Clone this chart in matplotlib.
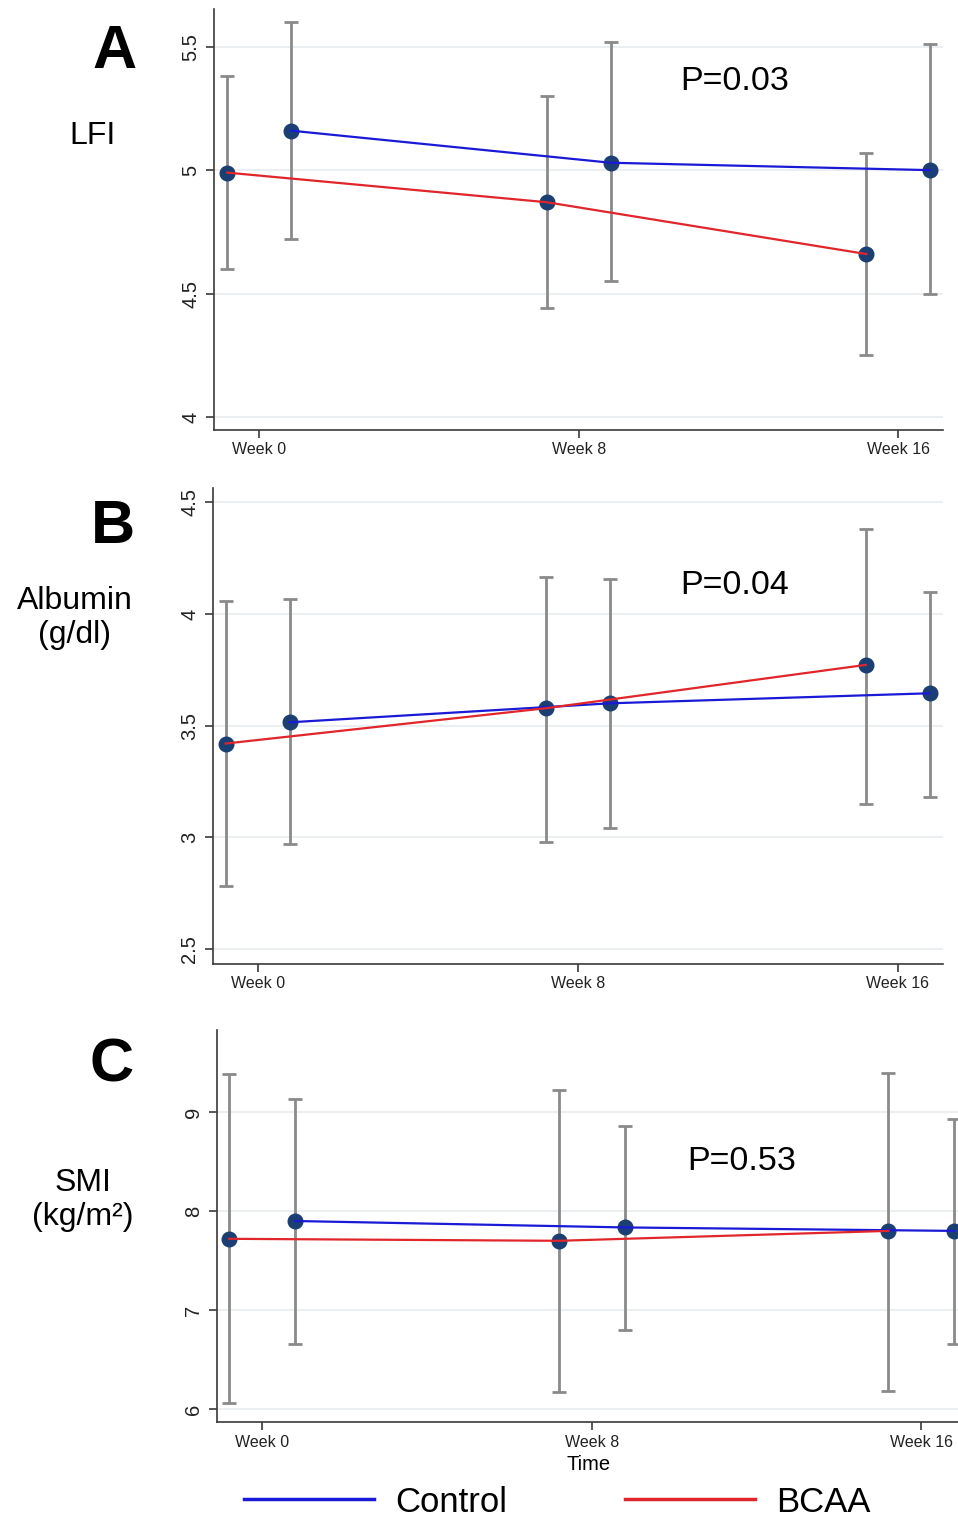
import matplotlib
matplotlib.use("Agg")
import matplotlib.pyplot as plt
from matplotlib.lines import Line2D
import numpy as np

plt.rcParams['font.family'] = ['Liberation Sans', 'DejaVu Sans']

# ---------------- data ----------------
weeks = [0, 8, 16]
week_labels = ["Week 0", "Week 8", "Week 16"]
offset = 0.8  # horizontal dodge (weeks)

# Panel A: LFI
lfi_control_mean = [5.16, 5.03, 5.00]
lfi_control_lo = [4.72, 4.55, 4.50]
lfi_control_hi = [5.60, 5.52, 5.51]
lfi_bcaa_mean = [4.99, 4.87, 4.66]
lfi_bcaa_lo = [4.60, 4.44, 4.25]
lfi_bcaa_hi = [5.38, 5.30, 5.07]

# Panel B: Albumin (g/dl)
alb_control_mean = [3.515, 3.60, 3.645]
alb_control_lo = [2.97, 3.04, 3.18]
alb_control_hi = [4.065, 4.157, 4.10]
alb_bcaa_mean = [3.42, 3.578, 3.772]
alb_bcaa_lo = [2.78, 2.98, 3.15]
alb_bcaa_hi = [4.06, 4.167, 4.38]

# Panel C: SMI (kg/m2)
smi_control_mean = [7.90, 7.835, 7.80]
smi_control_lo = [6.66, 6.80, 6.66]
smi_control_hi = [9.13, 8.86, 8.93]
smi_bcaa_mean = [7.72, 7.70, 7.80]
smi_bcaa_lo = [6.06, 6.175, 6.18]
smi_bcaa_hi = [9.39, 9.22, 9.40]

panel_letters = ["A", "B", "C"]
panel_ylabels = ["LFI", "Albumin\n(g/dl)", "SMI\n(kg/m²)"]
p_values = ["P=0.03", "P=0.04", "P=0.53"]
yticks_list = [[4, 4.5, 5, 5.5], [2.5, 3, 3.5, 4, 4.5], [6, 7, 8, 9]]
ytick_labels_list = [["4", "4.5", "5", "5.5"], ["2.5", "3", "3.5", "4", "4.5"], ["6", "7", "8", "9"]]
legend_labels = ["Control", "BCAA"]
xlabel_text = "Time"

# ---------------- style ----------------
W, H = 958, 1518
fig = plt.figure(figsize=(W / 100, H / 100), dpi=100)

def fx(px):
    return px / W

def fy(py):
    return 1 - py / H

CTRL_COLOR = "#1a1ad6"
BCAA_COLOR = "#e0262b"
MARKER_COLOR = "#1b3f72"
ERR_COLOR = "#8a8a8a"
GRID_COLOR = "#e9eef0"
SPINE_COLOR = "#3a3a3a"

# axes rectangles in pixels: left, top, right, bottom
rects = [(214, 9, 943, 430), (213.3, 488, 943.3, 964), (216.7, 1030, 960, 1422.3)]
xlims = [(-1.13, 17.12), (-1.11, 17.14), (-1.107, 16.94)]
ylims = [(3.947, 5.653), (2.433, 4.564), (5.866, 9.83)]

data = [
    (lfi_control_mean, lfi_control_lo, lfi_control_hi, lfi_bcaa_mean, lfi_bcaa_lo, lfi_bcaa_hi),
    (alb_control_mean, alb_control_lo, alb_control_hi, alb_bcaa_mean, alb_bcaa_lo, alb_bcaa_hi),
    (smi_control_mean, smi_control_lo, smi_control_hi, smi_bcaa_mean, smi_bcaa_lo, smi_bcaa_hi),
]

letter_pos = [(115, 52), (113, 527), (112, 1066)]
ylabel_pos = [(92, 136), (75, 618), (83, 1200)]
p_pos = [(735, 81), (735, 585), (742, 1161)]

for i in range(3):
    l, t, r, b = rects[i]
    ax = fig.add_axes([fx(l), fy(b), fx(r) - fx(l), fy(t) - fy(b)])
    cm, clo, chi, bm, blo, bhi = data[i]
    xc = np.array(weeks) + offset
    xb = np.array(weeks) - offset
    cm, clo, chi = np.array(cm), np.array(clo), np.array(chi)
    bm, blo, bhi = np.array(bm), np.array(blo), np.array(bhi)

    for xs, m, lo, hi in ((xb, bm, blo, bhi), (xc, cm, clo, chi)):
        ax.errorbar(xs, m, yerr=[m - lo, hi - m], fmt='none', ecolor=ERR_COLOR,
                    elinewidth=2.0, capsize=5, capthick=2.0, zorder=2)
        ax.plot(xs, m, 'o', color=MARKER_COLOR, markersize=10.5, zorder=3)
    ax.plot(xc, cm, '-', color=CTRL_COLOR, lw=1.6, zorder=4)
    ax.plot(xb, bm, '-', color=BCAA_COLOR, lw=1.6, zorder=4)

    ax.set_xlim(*xlims[i])
    ax.set_ylim(*ylims[i])
    ax.set_xticks(weeks)
    ax.set_xticklabels(week_labels, fontsize=11.5, color="#222222")
    ax.set_yticks(yticks_list[i])
    ax.set_yticklabels(ytick_labels_list[i], fontsize=14.5, rotation=90, va='center', color="#222222")
    ax.grid(axis='y', color=GRID_COLOR, lw=1.3, zorder=0)
    ax.set_axisbelow(True)
    for s in ("top", "right"):
        ax.spines[s].set_visible(False)
    for s in ("left", "bottom"):
        ax.spines[s].set_color(SPINE_COLOR)
        ax.spines[s].set_linewidth(1.2)
    ax.tick_params(axis='both', direction='out', length=6, width=1.2, color=SPINE_COLOR)
    ax.tick_params(axis='x', pad=3)
    ax.tick_params(axis='y', pad=4)
    if i == 2:
        ax.set_xlabel(xlabel_text, fontsize=14.5, labelpad=4)

    lx, ly = letter_pos[i]
    fig.text(fx(lx), fy(ly), panel_letters[i], fontsize=44, fontweight='bold',
             ha='center', va='center')
    yx, yy = ylabel_pos[i]
    fig.text(fx(yx), fy(yy), panel_ylabels[i], fontsize=23, ha='center', va='center',
             linespacing=1.2)
    px, py = p_pos[i]
    fig.text(fx(px), fy(py), p_values[i], fontsize=24.5, ha='center', va='center')

handles = [Line2D([0], [0], color=CTRL_COLOR, lw=2.5),
           Line2D([0], [0], color=BCAA_COLOR, lw=2.5)]
fig.legend(handles, legend_labels, loc='center', bbox_to_anchor=(fx(557), fy(1502)),
           ncol=2, frameon=False, fontsize=25, handlelength=3.75, handletextpad=0.6,
           columnspacing=3.4, borderpad=0, borderaxespad=0)

fig.savefig("out.png", dpi=100, facecolor='white')
